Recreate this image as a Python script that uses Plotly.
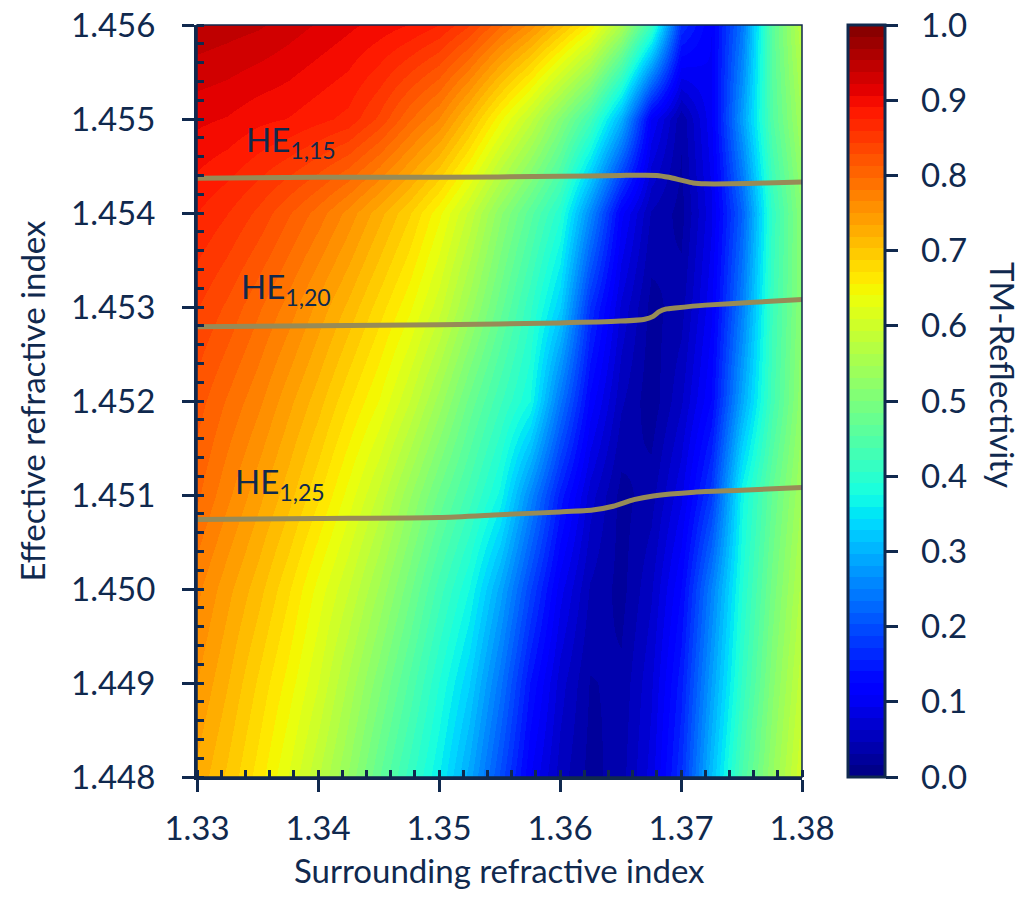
import numpy as np
import plotly.graph_objects as go

# ---------------- data ----------------
x_grid = [1.330, 1.3325, 1.335, 1.3375, 1.340, 1.3425, 1.345, 1.3475, 1.350, 1.3525,
          1.355, 1.3575, 1.360, 1.3625, 1.365, 1.3675, 1.370, 1.3725, 1.375, 1.3775, 1.380]
y_grid = [1.448, 1.449, 1.450, 1.451, 1.452, 1.453, 1.454, 1.455, 1.456]

z_1448 = [0.73, 0.70, 0.665, 0.625, 0.58, 0.53, 0.47, 0.415, 0.36, 0.29, 0.20, 0.11, 0.055, 0.025, 0.04, 0.085, 0.17, 0.31, 0.44, 0.53, 0.61]
z_1449 = [0.75, 0.72, 0.685, 0.65, 0.61, 0.56, 0.505, 0.45, 0.39, 0.33, 0.24, 0.14, 0.07, 0.03, 0.035, 0.075, 0.15, 0.28, 0.41, 0.51, 0.59]
z_1450 = [0.77, 0.74, 0.71, 0.675, 0.635, 0.595, 0.545, 0.49, 0.43, 0.375, 0.29, 0.19, 0.10, 0.045, 0.025, 0.06, 0.125, 0.25, 0.39, 0.49, 0.57]
z_1451 = [0.80, 0.77, 0.74, 0.71, 0.675, 0.635, 0.59, 0.535, 0.48, 0.43, 0.37, 0.26, 0.15, 0.07, 0.025, 0.04, 0.09, 0.18, 0.37, 0.47, 0.55]
z_1452 = [0.82, 0.795, 0.77, 0.74, 0.71, 0.675, 0.64, 0.595, 0.54, 0.48, 0.425, 0.375, 0.24, 0.12, 0.05, 0.02, 0.06, 0.125, 0.29, 0.43, 0.53]
z_1453 = [0.845, 0.825, 0.80, 0.775, 0.745, 0.715, 0.68, 0.645, 0.60, 0.54, 0.475, 0.41, 0.33, 0.17, 0.075, 0.025, 0.04, 0.105, 0.25, 0.42, 0.52]
z_1454 = [0.875, 0.86, 0.84, 0.815, 0.79, 0.76, 0.725, 0.69, 0.645, 0.59, 0.52, 0.46, 0.395, 0.26, 0.115, 0.045, 0.025, 0.09, 0.22, 0.41, 0.52]
z_1455 = [0.91, 0.905, 0.895, 0.89, 0.88, 0.87, 0.84, 0.80, 0.765, 0.71, 0.645, 0.585, 0.51, 0.43, 0.30, 0.11, 0.035, 0.105, 0.28, 0.45, 0.55]
z_1456 = [0.95, 0.945, 0.94, 0.93, 0.92, 0.91, 0.90, 0.89, 0.875, 0.845, 0.80, 0.76, 0.71, 0.655, 0.56, 0.42, 0.17, 0.11, 0.24, 0.46, 0.58]

line15_x = [1.330, 1.340, 1.350, 1.360, 1.365, 1.368, 1.369, 1.370, 1.371, 1.372, 1.374, 1.377, 1.380]
line15_y = [1.45437, 1.45438, 1.45438, 1.45439, 1.45440, 1.45440, 1.45438, 1.45435, 1.45432, 1.45431, 1.45431, 1.45432, 1.45433]

line20_x = [1.330, 1.340, 1.350, 1.360, 1.365, 1.367, 1.3677, 1.3682, 1.3688, 1.3695, 1.372, 1.376, 1.380]
line20_y = [1.45279, 1.45280, 1.45281, 1.45283, 1.45285, 1.45287, 1.45290, 1.45295, 1.45298, 1.45299, 1.45302, 1.45305, 1.45308]

line25_x = [1.330, 1.340, 1.350, 1.355, 1.360, 1.3627, 1.3644, 1.3661, 1.3677, 1.3711, 1.375, 1.380]
line25_y = [1.45074, 1.45075, 1.45076, 1.45079, 1.45082, 1.45084, 1.45088, 1.45095, 1.45099, 1.45103, 1.45105, 1.45108]

labels = ["HE<sub>1,15</sub>", "HE<sub>1,20</sub>", "HE<sub>1,25</sub>"]
label_x = [1.3339, 1.3335, 1.3330]
label_y = [1.45476, 1.45320, 1.45112]

cbar_ticks = [0.0, 0.1, 0.2, 0.3, 0.4, 0.5, 0.6, 0.7, 0.8, 0.9, 1.0]
cbar_text = ["\u2002%.1f" % v for v in cbar_ticks]

# ---------------- style ----------------
NAVY = "#10294e"
LINE_COL = "#978b57"
FONT = "Lato"
OFF = 8                      # page body margin
W, H = 1035 - 2 * OFF, 899 - 2 * OFF
L, R, T, B = 197 - OFF, 802 - OFF, 25 - OFF, 777 - OFF
PW, PH = R - L, B - T


def jet(v):
    r = np.interp(v, [0, 0.35, 0.66, 0.89, 1], [0, 0, 1, 1, 0.5])
    g = np.interp(v, [0, 0.125, 0.375, 0.64, 0.91, 1], [0, 0, 1, 1, 0, 0])
    b = np.interp(v, [0, 0.11, 0.34, 0.65, 1], [0.5, 1, 1, 0, 0])
    return "rgb(%d,%d,%d)" % (round(r * 255), round(g * 255), round(b * 255))


NB = 64
colorscale = []
for i in range(NB):
    c = jet((i + 0.5) / NB)
    colorscale.append([i / NB, c])
    colorscale.append([(i + 1) / NB, c])

z = [z_1448, z_1449, z_1450, z_1451, z_1452, z_1453, z_1454, z_1455, z_1456]

fig = go.Figure()
fig.add_trace(go.Heatmap(
    x=x_grid, y=y_grid, z=z, zmin=0, zmax=1, zsmooth="best",
    colorscale=colorscale, hoverinfo="skip",
    colorbar=dict(
        x=(848 - OFF - L) / PW, xanchor="left", xref="paper",
        y=0.5, yanchor="middle", len=1, lenmode="fraction",
        thickness=37, xpad=0, ypad=0,
        outlinewidth=3, outlinecolor=NAVY,
        ticks="outside", ticklen=12, tickwidth=3, tickcolor=NAVY,
        tickvals=cbar_ticks, ticktext=cbar_text, ticklabeloverflow="allow",
        tickfont=dict(family=FONT, size=33, color=NAVY),
    ),
))

for lx, ly in [(line15_x, line15_y), (line20_x, line20_y), (line25_x, line25_y)]:
    fig.add_trace(go.Scatter(x=lx, y=ly, mode="lines",
                             line=dict(color=LINE_COL, width=5, shape="spline", smoothing=0.6),
                             showlegend=False, hoverinfo="skip"))

for t, ax_, ay_ in zip(labels, label_x, label_y):
    fig.add_annotation(x=ax_, y=ay_, text=t, showarrow=False, xanchor="left", yanchor="middle",
                       font=dict(family=FONT, size=33, color=NAVY))

# colorbar title, reading top-to-bottom
fig.add_annotation(x=(1003 - OFF - L) / PW, y=(B - (375 - OFF)) / PH, xref="paper", yref="paper",
                   text="TM-Reflectivity", textangle=90, showarrow=False,
                   xanchor="center", yanchor="middle",
                   font=dict(family=FONT, size=33, color=NAVY))

# x-axis title
fig.add_annotation(x=0.5, y=(B - (870 - OFF)) / PH, xref="paper", yref="paper",
                   text="Surrounding refractive index", showarrow=False,
                   xanchor="center", yanchor="middle",
                   font=dict(family=FONT, size=33, color=NAVY))

fig.update_layout(
    width=W, height=H,
    margin=dict(l=L, r=W - R, t=T, b=H - B, autoexpand=False),
    paper_bgcolor="white", plot_bgcolor="white",
    showlegend=False,
    font=dict(family=FONT, color=NAVY),
    xaxis=dict(
        range=[1.33, 1.38], tick0=1.33, dtick=0.01, tickformat=".2f",
        ticks="outside", ticklen=12, tickwidth=3, tickcolor=NAVY,
        showline=True, linewidth=3, linecolor=NAVY, mirror=False,
        showgrid=False, zeroline=False, ticklabelstandoff=8, automargin=False,
        ticklabeloverflow="allow",
        minor=dict(ticks="inside", dtick=0.002, tick0=1.33, ticklen=7, tickwidth=2.5, tickcolor=NAVY, showgrid=False),
        tickfont=dict(family=FONT, size=33, color=NAVY),
    ),
    yaxis=dict(
        range=[1.448, 1.456], tick0=1.448, dtick=0.001, tickformat=".3f",
        ticks="outside", ticklen=12, tickwidth=3, tickcolor=NAVY,
        showline=True, linewidth=3, linecolor=NAVY, mirror=False,
        showgrid=False, zeroline=False, ticklabelstandoff=20, automargin=False,
        ticklabeloverflow="allow",
        minor=dict(ticks="inside", dtick=0.0002, tick0=1.448, ticklen=7, tickwidth=2.5, tickcolor=NAVY, showgrid=False),
        tickfont=dict(family=FONT, size=33, color=NAVY),
        title=dict(text="Effective refractive index", standoff=16,
                   font=dict(family=FONT, size=33, color=NAVY)),
    ),
)

fig.add_shape(type="rect", xref="paper", yref="paper", x0=0, x1=1, y0=0, y1=1,
              line=dict(color=NAVY, width=1.5), layer="above")

fig.write_html("out.html")
